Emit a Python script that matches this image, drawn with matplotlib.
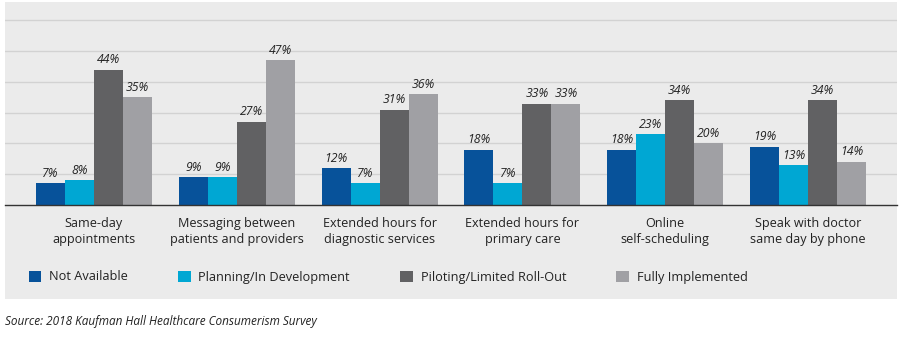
import numpy as np
import matplotlib
matplotlib.use("Agg")
import matplotlib.pyplot as plt
from matplotlib.patches import Rectangle

plt.rcParams['font.family'] = ['Open Sans', 'DejaVu Sans']

# 데이터
categories = ["Same-day\nappointments", "Messaging between\npatients and providers",
              "Extended hours for\ndiagnostic services", "Extended hours for\nprimary care",
              "Online\nself-scheduling", "Speak with doctor\nsame day by phone"]
series_names = ["Not Available", "Planning/In Development",
                "Piloting/Limited Roll-Out", "Fully Implemented"]
not_available = [7, 9, 12, 18, 18, 19]
planning = [8, 9, 7, 7, 23, 13]
piloting = [44, 27, 31, 33, 34, 34]
fully = [35, 47, 36, 33, 20, 14]
colors = ["#07529a", "#00a7d3", "#616163", "#a0a0a4"]
source_text = "Source: 2018 Kaufman Hall Healthcare Consumerism Survey"

W, H = 908, 340
fig = plt.figure(figsize=(W / 100, H / 100), dpi=100)
fig.patch.set_facecolor("white")

# 회색 배경 패널
fig.patches.append(Rectangle((5 / W, 1 - 299 / H), 892 / W, 297 / H,
                             transform=fig.transFigure, facecolor="#ebebeb",
                             edgecolor="none", zorder=-10))

ax = fig.add_axes([5 / W, 1 - 205 / H, 892 / W, 203 / H])
ax.set_facecolor("none")
ax.set_zorder(1)

x = np.arange(len(categories))
bw = 0.203
all_series = [not_available, planning, piloting, fully]
for i, (vals, c, name) in enumerate(zip(all_series, colors, series_names)):
    pos = x + (i - 1.5) * bw
    ax.bar(pos, vals, width=bw, color=c, label=name, zorder=3)
    for p, v in zip(pos, vals):
        ax.annotate(f"{v}%", (p, v), xytext=(0, 2.5), textcoords="offset points",
                    ha="center", va="bottom", fontsize=8.8, style="italic",
                    color="#222222", zorder=4)

ax.set_xlim(-0.623, len(categories) - 1 + 0.623)
ax.set_ylim(0, 66)
ax.set_yticks(np.arange(10, 61, 10))
ax.yaxis.grid(True, color="#d2d2d2", linewidth=1)
ax.set_axisbelow(True)
ax.tick_params(axis="y", left=False, labelleft=False)
ax.set_xticks(x)
ax.set_xticklabels(categories, fontsize=9.1, color="#222222", linespacing=1.35)
ax.tick_params(axis="x", length=0, pad=8.5)
for s in ["top", "right", "left"]:
    ax.spines[s].set_visible(False)
ax.spines["bottom"].set_color("#333333")
ax.spines["bottom"].set_linewidth(1)
ax.spines["bottom"].set_zorder(5)

handles, labels = ax.get_legend_handles_labels()
fig.legend(handles, labels, ncol=4, loc="center left",
           bbox_to_anchor=(17 / W, 1 - 277 / H), frameon=False,
           fontsize=9.2, handlelength=1.0, handleheight=0.95,
           handletextpad=0.62, columnspacing=3.9, labelcolor="#222222")

fig.text(5 / W, 1 - 322 / H, source_text, fontsize=8.5, style="italic",
         color="#222222", ha="left", va="center")

fig.savefig("out.png", dpi=100)
